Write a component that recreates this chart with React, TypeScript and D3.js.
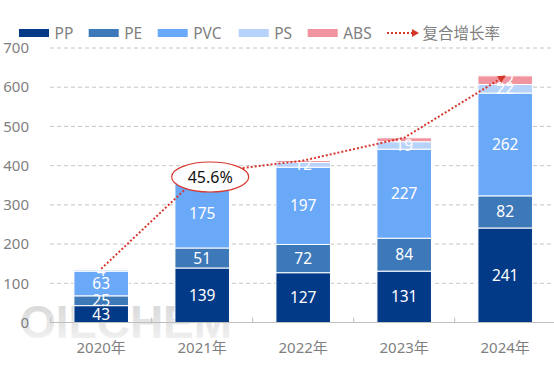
import React from 'react'
import * as d3 from 'd3'

const years = ['2020年', '2021年', '2022年', '2023年', '2024年']
const seriesNames = ['PP', 'PE', 'PVC', 'PS', 'ABS']
const PP = [43, 139, 127, 131, 241]
const PE = [25, 51, 72, 84, 82]
const PVC = [63, 175, 197, 227, 262]
const PS = [4, 10, 12, 19, 22]
const ABS = [2, 6, 5, 10, 22]
const yTicks = [0, 100, 200, 300, 400, 500, 600, 700]
const cagrLabel = '45.6%'
const lineName = '复合增长率'

const colors: Record<string, string> = {
    PP: '#033a87',
    PE: '#3d78b9',
    PVC: '#6aa8f8',
    PS: '#b7d3fb',
    ABS: '#f0959f'
}
const lineColor = '#d6372d'
const textColor = '#7f7f7f'
const font = '"Noto Sans", "Noto Sans CJK SC", sans-serif'

const W = 554, H = 369
const margin = { top: 48, left: 50.7, bottom: 322.5 }

const App = () => {
    const rows = years.map((y, i) => ({ year: y, PP: PP[i], PE: PE[i], PVC: PVC[i], PS: PS[i], ABS: ABS[i] }))
    const stacked = d3.stack<any>().keys(seriesNames)(rows)

    const x = d3.scaleBand().domain(years).range([margin.left, margin.left + 505]).paddingInner(0.46).paddingOuter(0.23)
    const y = d3.scaleLinear().domain([0, 700]).range([margin.bottom, margin.top])
    const cx = (yr: string) => (x(yr) || 0) + x.bandwidth() / 2

    const totals = rows.map(r => ({ year: r.year, total: r.PP + r.PE + r.PVC + r.PS + r.ABS }))
    const line = d3.line<{ year: string, total: number }>().x(d => cx(d.year)).y(d => y(d.total))

    // boundaries of the category bands, for the small ticks
    const step = x.step()
    const bounds = d3.range(years.length + 1).map(i => margin.left + i * step)

    const legendX = [19, 88.7, 157.7, 238.7, 307.7]
    const ellX = cx(years[1]) + 8
    const ellY = 177

    return (
        <svg width={W} height={H} style={{ position: 'absolute', left: 0, top: 0, fontFamily: font }}>
            <defs>
                <linearGradient id="wm" x1="0" y1="0" x2="0" y2="1">
                    <stop offset="0" stopColor="#cacaca" />
                    <stop offset="0.5" stopColor="#dedede" />
                    <stop offset="1" stopColor="#f6f6f6" />
                </linearGradient>
                <marker id="arr" viewBox="0 0 10 10" refX="9" refY="5" markerWidth="4" markerHeight="4" orient="auto" markerUnits="strokeWidth">
                    <path d="M0,0 L10,5 L0,10 z" fill={lineColor} />
                </marker>
            </defs>
            <rect width={W} height={H} fill="#fff" />

            {/* watermark */}
            <text x={20} y={338} fontFamily='"Liberation Sans", Arial, sans-serif' fontWeight="bold" fontSize={46} fill="url(#wm)" opacity={0.8}>OILCHEM</text>

            {/* grid + y labels */}
            {yTicks.map(t => (
                <g key={t}>
                    {t > 0 && <line x1={50} x2={W} y1={y(t)} y2={y(t)} stroke="#c6c6c6" strokeDasharray="4 3" />}
                    <text x={29} y={y(t)} dy="0.35em" textAnchor="end" fontSize={15} fill={textColor}>{t}</text>
                </g>
            ))}

            {/* bars */}
            {stacked.map(s => (
                <g key={s.key}>
                    {s.map((d, i) => (
                        <rect key={i} x={x(years[i])} width={x.bandwidth()} y={y(d[1])} height={y(d[0]) - y(d[1])}
                            fill={colors[s.key]} stroke="#fff" strokeWidth={1} />
                    ))}
                </g>
            ))}

            {/* x axis */}
            <line x1={50} x2={W} y1={margin.bottom} y2={margin.bottom} stroke="#bfbfbf" />
            {bounds.map((b, i) => (
                <line key={i} x1={b} x2={b} y1={margin.bottom - 5} y2={margin.bottom} stroke="#bfbfbf" />
            ))}
            {years.map(yr => (
                <text key={yr} x={cx(yr)} y={348} dy="0.35em" textAnchor="middle" fontSize={15} fill={textColor}>{yr}</text>
            ))}

            {/* segment labels */}
            {stacked.map(s => (
                <g key={s.key}>
                    {s.map((d, i) => {
                        const v = d[1] - d[0]
                        if (s.key === 'ABS' && v < 20) return null
                        return (
                            <text key={i} x={cx(years[i])} y={(y(d[0]) + y(d[1])) / 2} dy="0.36em" textAnchor="middle"
                                fontSize={15.5} fill="#fff">{v}</text>
                        )
                    })}
                </g>
            ))}

            {/* CAGR line */}
            <path d={line(totals) || ''} fill="none" stroke={lineColor} strokeWidth={2} strokeDasharray="2 2" markerEnd="url(#arr)" />
            <ellipse cx={ellX} cy={ellY} rx={38.5} ry={15} fill="#fff" stroke={lineColor} strokeWidth={1.2} />
            <text x={ellX} y={ellY} dy="0.36em" textAnchor="middle" fontSize={16} fill="#111">{cagrLabel}</text>

            {/* legend */}
            {seriesNames.map((n, i) => (
                <g key={n}>
                    <rect x={legendX[i]} y={29} width={30} height={8} fill={colors[n]} />
                    <text x={legendX[i] + 35.5} y={33} dy="0.36em" fontSize={15.5} fill={textColor}>{n}</text>
                </g>
            ))}
            <line x1={387} x2={413} y1={33} y2={33} stroke={lineColor} strokeWidth={2} strokeDasharray="2 2" />
            <path d="M412,29 L419,33 L412,37 z" fill={lineColor} />
            <text x={422.5} y={33} dy="0.36em" fontSize={15.5} fill={textColor}>{lineName}</text>
        </svg>
    )
}

export default App
